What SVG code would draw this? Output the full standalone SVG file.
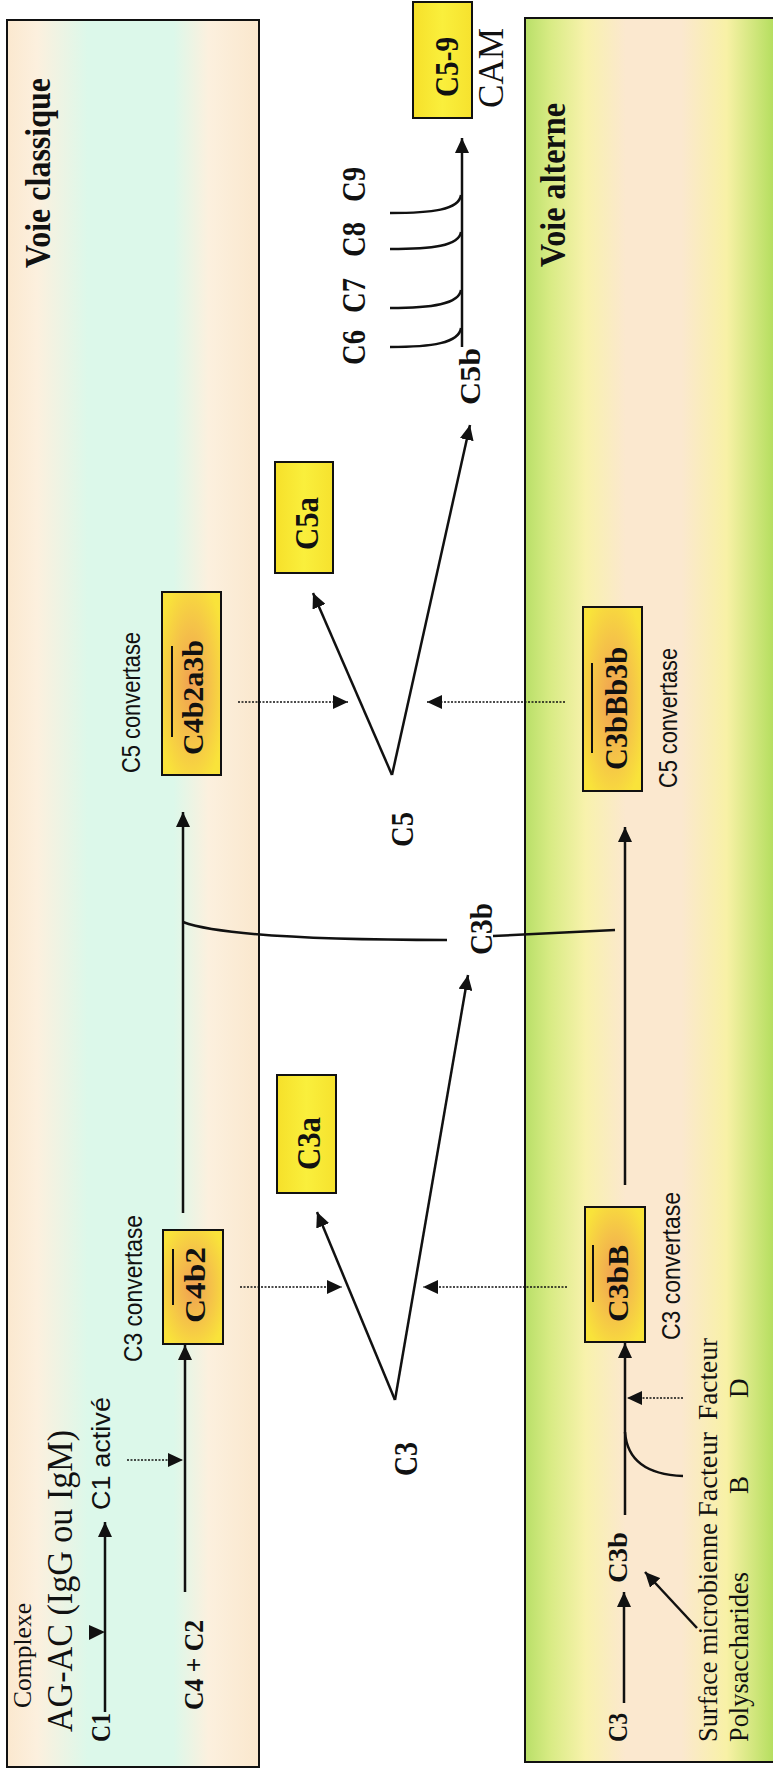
<svg xmlns="http://www.w3.org/2000/svg" width="773" height="1773" viewBox="0 0 773 1773">
<defs>
<linearGradient id="gLeft" x1="0" y1="0" x2="1" y2="0">
<stop offset="0" stop-color="#fbe8cf"/>
<stop offset="0.12" stop-color="#fcf0de"/>
<stop offset="0.32" stop-color="#dcf8ea"/>
<stop offset="0.66" stop-color="#dcf8ea"/>
<stop offset="0.8" stop-color="#fcf0de"/>
<stop offset="1" stop-color="#fae7cd"/>
</linearGradient>
<linearGradient id="gRight" x1="0" y1="0" x2="1" y2="0">
<stop offset="0" stop-color="#b8df68"/>
<stop offset="0.1" stop-color="#d8eb84"/>
<stop offset="0.24" stop-color="#f8f2ac"/>
<stop offset="0.4" stop-color="#fbe8cf"/>
<stop offset="0.62" stop-color="#fbe8cf"/>
<stop offset="0.8" stop-color="#f8f1a6"/>
<stop offset="1" stop-color="#b0dd5a"/>
</linearGradient>
<radialGradient id="gConv" cx="0.5" cy="0.5" r="0.6">
<stop offset="0" stop-color="#f0a052"/>
<stop offset="0.55" stop-color="#f5c448"/>
<stop offset="1" stop-color="#f9e33a"/>
</radialGradient>
<linearGradient id="gYel" x1="0" y1="0" x2="1" y2="0">
<stop offset="0" stop-color="#f6e02a"/>
<stop offset="0.5" stop-color="#faef3c"/>
<stop offset="1" stop-color="#f6e22e"/>
</linearGradient>
<marker id="ah" markerUnits="userSpaceOnUse" markerWidth="16" markerHeight="14" refX="15" refY="7" orient="auto">
<path d="M0,0 L15,7 L0,14 Z" fill="#111"/>
</marker>
</defs>
<style>
.panel{stroke:#111;stroke-width:2}
.box{stroke:#111;stroke-width:2}
.conv{fill:url(#gConv)}
.yel{fill:url(#gYel)}
.ln{fill:none;stroke:#111;stroke-width:2.5}
.arr{fill:none;stroke:#111;stroke-width:2.5;marker-end:url(#ah)}
.dot{fill:none;stroke:#111;stroke-width:1.6;stroke-dasharray:2 1.5;marker-end:url(#ah)}
.bar{stroke:#111;stroke-width:2}
text{fill:#111}
.bs{font-family:"Liberation Serif","Times New Roman",serif;font-weight:bold}
.rs{font-family:"Liberation Serif","Times New Roman",serif}
.ss{font-family:"Liberation Sans",Arial,sans-serif}
</style>

<g id="panel-classique">
<rect class="panel" x="7" y="20" width="252" height="1747" fill="url(#gLeft)"/>
<text class="bs" font-size="35" transform="translate(50,268) rotate(-90)" textLength="190" lengthAdjust="spacingAndGlyphs">Voie classique</text>
</g>
<g id="panel-alterne">
<rect class="panel" x="525" y="18" width="252" height="1744" fill="url(#gRight)"/>
<text class="bs" font-size="35" transform="translate(565,267) rotate(-90)" textLength="164" lengthAdjust="spacingAndGlyphs">Voie alterne</text>
</g>

<g id="connectors">
<line class="arr" x1="105" y1="1712" x2="105" y2="1522"/>
<polygon points="89,1625 89,1640 105,1632" fill="#111"/>
<line class="dot" x1="127" y1="1460" x2="183" y2="1460"/>
<line class="arr" x1="185" y1="1592" x2="185" y2="1345"/>
<line class="arr" x1="183" y1="1213" x2="183" y2="812"/>
<path class="ln" d="M183,922 C215,934 300,940 447,940"/>
<path class="ln" d="M493,936 L615,930"/>
<line class="dot" x1="240" y1="1287" x2="342" y2="1287"/>
<line class="dot" x1="238" y1="702" x2="348" y2="702"/>
<line class="arr" x1="395" y1="1400" x2="317" y2="1212"/>
<line class="arr" x1="395" y1="1400" x2="468" y2="975"/>
<line class="arr" x1="392" y1="775" x2="313" y2="593"/>
<line class="arr" x1="392" y1="775" x2="470" y2="425"/>
<line class="dot" x1="567" y1="1287" x2="423" y2="1287"/>
<line class="dot" x1="565" y1="702" x2="427" y2="702"/>
<line class="arr" x1="462" y1="347" x2="462" y2="138"/>
<path class="ln" d="M390,347 C432,347 459,343 461,328"/>
<path class="ln" d="M390,308 C432,308 459,304 461,290"/>
<path class="ln" d="M390,249 C432,249 459,246 461,232"/>
<path class="ln" d="M390,213 C432,213 459,210 461,195"/>
<line class="arr" x1="624" y1="1703" x2="624" y2="1592"/>
<line class="arr" x1="697" y1="1628" x2="645" y2="1572"/>
<line class="arr" x1="625" y1="1515" x2="625" y2="1343"/>
<path class="ln" d="M683,1476 Q628,1474 625,1432"/>
<line class="dot" x1="683" y1="1398" x2="627" y2="1398"/>
<line class="arr" x1="625" y1="1185" x2="625" y2="827"/>
</g>

<g id="complexe">
<text class="rs" font-size="25" transform="translate(31,1708) rotate(-90)" textLength="105" lengthAdjust="spacingAndGlyphs">Complexe</text>
<text class="rs" font-size="36" transform="translate(72,1732) rotate(-90)" textLength="302" lengthAdjust="spacingAndGlyphs">AG-AC (IgG ou IgM)</text>
</g>
<g id="c1"><text class="bs" font-size="28" transform="translate(110,1742) rotate(-90)" textLength="29" lengthAdjust="spacingAndGlyphs">C1</text></g>
<g id="c1-active"><text class="ss" font-size="25" transform="translate(110,1510) rotate(-90)" textLength="113" lengthAdjust="spacingAndGlyphs">C1 activé</text></g>
<g id="c4c2"><text class="bs" font-size="27" transform="translate(203,1710) rotate(-90)" textLength="90" lengthAdjust="spacingAndGlyphs">C4 + C2</text></g>

<g id="c4b2">
<rect class="box conv" x="163" y="1230" width="60" height="114"/>
<line class="bar" x1="173" y1="1249" x2="173" y2="1305"/>
<text class="bs" font-size="30" transform="translate(205,1323) rotate(-90)" textLength="76" lengthAdjust="spacingAndGlyphs">C4b2</text>
<text class="ss" font-size="25" transform="translate(142,1362) rotate(-90)" textLength="147" lengthAdjust="spacingAndGlyphs">C3 convertase</text>
</g>
<g id="c4b2a3b">
<rect class="box conv" x="162" y="592" width="59" height="183"/>
<line class="bar" x1="172" y1="646" x2="172" y2="737"/>
<text class="bs" font-size="30" transform="translate(203,755) rotate(-90)" textLength="115" lengthAdjust="spacingAndGlyphs">C4b2a3b</text>
<text class="ss" font-size="25" transform="translate(140,773) rotate(-90)" textLength="141" lengthAdjust="spacingAndGlyphs">C5 convertase</text>
</g>

<g id="c3a">
<rect class="box yel" x="277" y="1075" width="59" height="118"/>
<text class="bs" font-size="34" transform="translate(320,1170) rotate(-90)" textLength="53" lengthAdjust="spacingAndGlyphs">C3a</text>
</g>
<g id="c5a">
<rect class="box yel" x="275" y="462" width="58" height="111"/>
<text class="bs" font-size="34" transform="translate(318,550) rotate(-90)" textLength="53" lengthAdjust="spacingAndGlyphs">C5a</text>
</g>
<g id="c3"><text class="bs" font-size="34" transform="translate(417,1476) rotate(-90)" textLength="34" lengthAdjust="spacingAndGlyphs">C3</text></g>
<g id="c5"><text class="bs" font-size="32" transform="translate(413,847) rotate(-90)" textLength="35" lengthAdjust="spacingAndGlyphs">C5</text></g>
<g id="c3b-mid"><text class="bs" font-size="32" transform="translate(492,955) rotate(-90)" textLength="52" lengthAdjust="spacingAndGlyphs">C3b</text></g>
<g id="c5b"><text class="bs" font-size="30" transform="translate(480,405) rotate(-90)" textLength="57" lengthAdjust="spacingAndGlyphs">C5b</text></g>
<g id="c6-c9">
<text class="bs" font-size="33" transform="translate(365,365) rotate(-90)" textLength="35" lengthAdjust="spacingAndGlyphs">C6</text>
<text class="bs" font-size="33" transform="translate(365,313) rotate(-90)" textLength="35" lengthAdjust="spacingAndGlyphs">C7</text>
<text class="bs" font-size="33" transform="translate(365,257) rotate(-90)" textLength="35" lengthAdjust="spacingAndGlyphs">C8</text>
<text class="bs" font-size="33" transform="translate(365,202) rotate(-90)" textLength="35" lengthAdjust="spacingAndGlyphs">C9</text>
</g>
<g id="c5-9">
<rect class="box yel" x="413" y="2" width="59" height="116"/>
<text class="bs" font-size="33" transform="translate(458,97) rotate(-90)" textLength="60" lengthAdjust="spacingAndGlyphs">C5-9</text>
<text class="rs" font-size="36" transform="translate(503,108) rotate(-90)" textLength="80" lengthAdjust="spacingAndGlyphs">CAM</text>
</g>

<g id="c3bBb3b">
<rect class="box conv" x="583" y="607" width="59" height="184"/>
<line class="bar" x1="592" y1="663" x2="592" y2="753"/>
<text class="bs" font-size="32" transform="translate(627,770) rotate(-90)" textLength="123" lengthAdjust="spacingAndGlyphs">C3bBb3b</text>
<text class="ss" font-size="25" transform="translate(677,788) rotate(-90)" textLength="140" lengthAdjust="spacingAndGlyphs">C5 convertase</text>
</g>
<g id="c3bB">
<rect class="box conv" x="585" y="1207" width="60" height="135"/>
<line class="bar" x1="593" y1="1245" x2="593" y2="1302"/>
<text class="bs" font-size="30" transform="translate(628,1322) rotate(-90)" textLength="77" lengthAdjust="spacingAndGlyphs">C3bB</text>
<text class="ss" font-size="25" transform="translate(680,1340) rotate(-90)" textLength="148" lengthAdjust="spacingAndGlyphs">C3 convertase</text>
</g>
<g id="c3b-alt"><text class="bs" font-size="28" transform="translate(627,1583) rotate(-90)" textLength="51" lengthAdjust="spacingAndGlyphs">C3b</text></g>
<g id="c3-alt"><text class="bs" font-size="28" transform="translate(627,1742) rotate(-90)" textLength="29" lengthAdjust="spacingAndGlyphs">C3</text></g>
<g id="surface">
<text class="rs" font-size="27" transform="translate(717,1742) rotate(-90)" textLength="219" lengthAdjust="spacingAndGlyphs">Surface microbienne</text>
<text class="rs" font-size="27" transform="translate(748,1742) rotate(-90)" textLength="170" lengthAdjust="spacingAndGlyphs">Polysaccharides</text>
</g>
<g id="facteur-b">
<text class="rs" font-size="27" transform="translate(717,1517) rotate(-90)" textLength="85" lengthAdjust="spacingAndGlyphs">Facteur</text>
<text class="rs" font-size="27" transform="translate(748,1494) rotate(-90)">B</text>
</g>
<g id="facteur-d">
<text class="rs" font-size="27" transform="translate(717,1420) rotate(-90)" textLength="82" lengthAdjust="spacingAndGlyphs">Facteur</text>
<text class="rs" font-size="27" transform="translate(748,1398) rotate(-90)">D</text>
</g>
</svg>
